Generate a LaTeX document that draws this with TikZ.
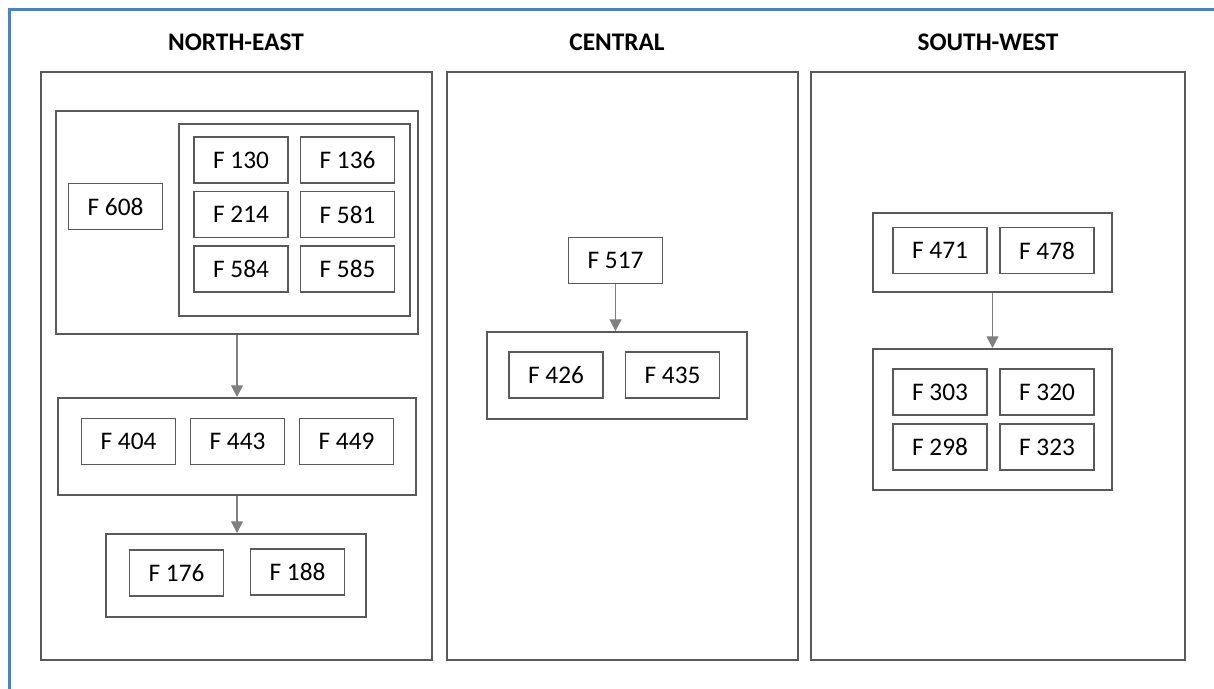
\documentclass[tikz,border=0pt]{standalone}
\usepackage{fontspec}
\setmainfont{Carlito}
\usepackage{tikz}
\usetikzlibrary{arrows.meta}
\usetikzlibrary{positioning}

\definecolor{frameblue}{HTML}{4F81BD}
\definecolor{boxgray}{HTML}{595959}
\definecolor{arrowgray}{HTML}{808080}

\begin{document}
\begin{tikzpicture}[
  x=0.01cm, y=-0.01cm,
  every node/.style={font=\fontsize{7.2}{8.6}\selectfont},
  > = {Triangle[length=3.3pt,width=3.4pt]},
  fbox/.style = {draw=boxgray,line width=0.55pt,minimum width=0.94cm,minimum height=0.46cm,inner sep=0pt},
  group/.style = {draw=boxgray,line width=0.55pt,inner sep=0pt},
  panel/.style = {draw=boxgray,line width=0.55pt,inner sep=0pt,minimum height=5.88cm},
  title/.style = {font=\fontsize{7.2}{8.6}\selectfont\bfseries},
  flow/.style = {->,draw=arrowgray,fill=arrowgray,line width=0.3pt}
  ]
	\useasboundingbox (0,0) rectangle (1214,689);
	\draw[frameblue,line width=0.85pt] (9.5,700) -- (9.5,9.5) -- (1220,9.5);

	% the three areas
	\node[title] (tne) at (236,42) {NORTH-EAST};
	\node[title] (tce) at (617,42) {CENTRAL};
	\node[title] (tsw) at (988,42) {SOUTH-WEST};

	\node[panel,minimum width=3.91cm] (ne) at (236.5,366) {};
	\node[panel,minimum width=3.51cm] (ce) at (622.5,366) {};
	\node[panel,minimum width=3.74cm] (sw) at (998,366) {};

	% north-east
	\node[group,minimum width=3.62cm,minimum height=2.23cm] (ne1) at (237,222.5) {};
	\node[group,minimum width=2.31cm,minimum height=1.92cm] (ne1in) at (294.5,220) {};
	\node[fbox] (f608) at (115.5,206.5) {F 608};
	\node[fbox] (f130) at (241,160) {F 130};
	\node[fbox] (f136) at (347.5,160) {F 136};
	\node[fbox] (f214) at (241,214.5) {F 214};
	\node[fbox] (f581) at (347.5,214.5) {F 581};
	\node[fbox] (f584) at (241,269) {F 584};
	\node[fbox] (f585) at (347.5,269) {F 585};

	\node[group,minimum width=3.58cm,minimum height=0.97cm] (ne2) at (237,446.5) {};
	\node[fbox] (f404) at (128.5,441.5) {F 404};
	\node[fbox] (f443) at (237.5,441.5) {F 443};
	\node[fbox] (f449) at (346.5,441.5) {F 449};

	\node[group,minimum width=2.60cm,minimum height=0.83cm] (ne3) at (236,575.5) {};
	\node[fbox] (f176) at (176.5,573) {F 176};
	\node[fbox] (f188) at (297.5,572) {F 188};

	\draw[flow] (ne1.south) -- (ne2.north);
	\draw[flow] (ne2.south) -- (ne2.south |- ne3.north);

	% central
	\node[fbox] (f517) at (615.5,260.5) {F 517};
	\node[group,minimum width=2.60cm,minimum height=0.87cm] (ce1) at (617,375.5) {};
	\node[fbox] (f426) at (556,375) {F 426};
	\node[fbox] (f435) at (672.5,375) {F 435};

	\draw[flow] (f517.south) -- (f517.south |- ce1.north);

	% south-west
	\node[group,minimum width=2.39cm,minimum height=0.79cm] (sw1) at (992.5,252.5) {};
	\node[fbox] (f471) at (940,250.5) {F 471};
	\node[fbox] (f478) at (1047,250.5) {F 478};

	\node[group,minimum width=2.39cm,minimum height=1.41cm] (sw2) at (992.5,419.5) {};
	\node[fbox] (f303) at (940,392) {F 303};
	\node[fbox] (f320) at (1047,392) {F 320};
	\node[fbox] (f298) at (940,447) {F 298};
	\node[fbox] (f323) at (1047,447) {F 323};

	\draw[flow] (sw1.south) -- (sw2.north);

\end{tikzpicture}
\end{document}
